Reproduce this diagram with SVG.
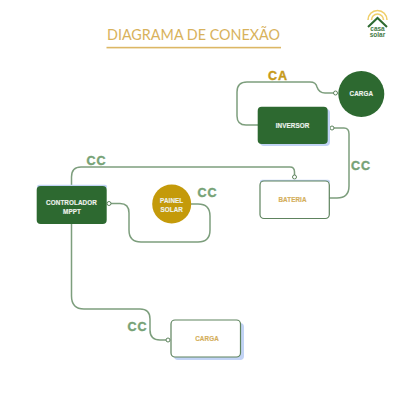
<svg xmlns="http://www.w3.org/2000/svg" width="400" height="400" viewBox="0 0 400 400">
<style>
.c{fill:none;stroke:#7d9e7d;stroke-width:1.5}
.d{fill:#fff;stroke:#5e835e;stroke-width:1.2}
.g{fill:#2d6930}
.s{fill:#c2d3f5}
.lb{font-family:"Liberation Sans",sans-serif;font-weight:700;font-size:6.3px;letter-spacing:.1px;text-anchor:middle;stroke-width:.15}
.w{fill:#eef2ec;stroke:#eef2ec}
.y{fill:#d4ae5a;stroke:#d4ae5a}
.cc{font-family:"Liberation Sans",sans-serif;font-weight:700;font-size:12.5px;letter-spacing:1px;fill:#76a276;stroke:#76a276;stroke-width:.4;text-anchor:middle}
</style>
<rect width="400" height="400" fill="#fff"/>
<text x="193.500" y="40" font-family="Lato,'Liberation Sans',sans-serif" font-size="16" textLength="173" lengthAdjust="spacingAndGlyphs" fill="#d8b25c" text-anchor="middle">DIAGRAMA DE CONEXÃO</text>
<rect x="106.500" y="46.800" width="174.500" height="1.600" fill="#dcb765"/>
<g id="logo">
<path d="M368 20a9.500 9.500 0 0 1 19 0" fill="none" stroke="#f0cf6a" stroke-width="1.600"/>
<path d="M371.500 20a6 6 0 0 1 12 0" fill="none" stroke="#f0cf6a" stroke-width="1.600"/>
<path d="M368 27l9.500-9 9.500 9" fill="#fff" stroke="#2d6930" stroke-width="2"/>
<text x="377.500" y="31" font-family="'Liberation Sans',sans-serif" font-weight="700" font-size="6.500" fill="#3f7a45" text-anchor="middle">casa</text>
<text x="377.500" y="37" font-family="'Liberation Sans',sans-serif" font-weight="700" font-size="6.500" fill="#3f7a45" text-anchor="middle">solar</text>
</g>
<g id="connectors">
<path class="c" d="M258 125H246Q237 125 237 116V92Q237 82 247 82H310Q316 82 317 87Q319 93 325 93H335"/>
<path class="c" d="M333 128H344Q349 128 349 134V186Q349 198 337 198H329"/>
<path class="c" d="M71.500 186V177Q71.500 167 81 167H290Q294.500 167 294.500 172V177"/>
<path class="c" d="M109 203.500H120Q129 203.500 129 213V230Q129 242 141 242H198Q210 242 210 230V216Q210 204 198 204H188"/>
<path class="c" d="M71.500 224V296Q71.500 309 84 309H140Q150 309 150 319V330Q150 340 160 340H167"/>
<g fill="#fff" stroke="#5e835e" stroke-width="1">
<circle cx="335.500" cy="93" r="2"/><circle cx="332" cy="128" r="2"/><circle cx="294.500" cy="177" r="2"/><circle cx="109" cy="203.500" r="2"/><circle cx="168" cy="340" r="2"/>
</g>
</g>
<text class="cc" x="278" y="80" style="fill:#c79a18;stroke:#c79a18">CA</text>
<text class="cc" x="96.500" y="165">CC</text>
<text class="cc" x="207.500" y="197">CC</text>
<text class="cc" x="361" y="170">CC</text>
<text class="cc" x="137.500" y="331">CC</text>
<g id="carga-ca"><circle class="g" cx="361.300" cy="94" r="23"/><text class="lb w" x="361.300" y="95.500">CARGA</text></g>
<g id="inversor"><rect class="s" x="260" y="109" width="70" height="37" rx="4"/><rect class="g" x="257.700" y="106.700" width="70" height="37.300" rx="4"/><text class="lb w" x="292.500" y="128">INVERSOR</text></g>
<g id="bateria"><rect class="s" x="260" y="179.700" width="70" height="4" rx="2"/><rect class="d" x="260" y="181" width="69.300" height="37.500" rx="4"/><text class="lb y" x="292.500" y="202">BATERIA</text></g>
<g id="controlador"><rect class="s" x="37" y="184.700" width="70" height="4" rx="2"/><rect class="g" x="36.700" y="186" width="70" height="38" rx="4"/><text class="lb w" x="71.500" y="204.500">CONTROLADOR</text><text class="lb w" x="72" y="213.500">MPPT</text></g>
<g id="painel"><circle cx="171.700" cy="204" r="19.500" fill="#c49a0a"/><text class="lb w" x="171.700" y="202.800">PAINEL</text><text class="lb w" x="171.700" y="211.500">SOLAR</text></g>
<g id="carga-cc"><rect class="s" x="174" y="323" width="70" height="37" rx="4"/><rect class="d" x="171" y="320" width="69.500" height="37" rx="4"/><text class="lb y" x="207" y="341">CARGA</text></g>
</svg>
